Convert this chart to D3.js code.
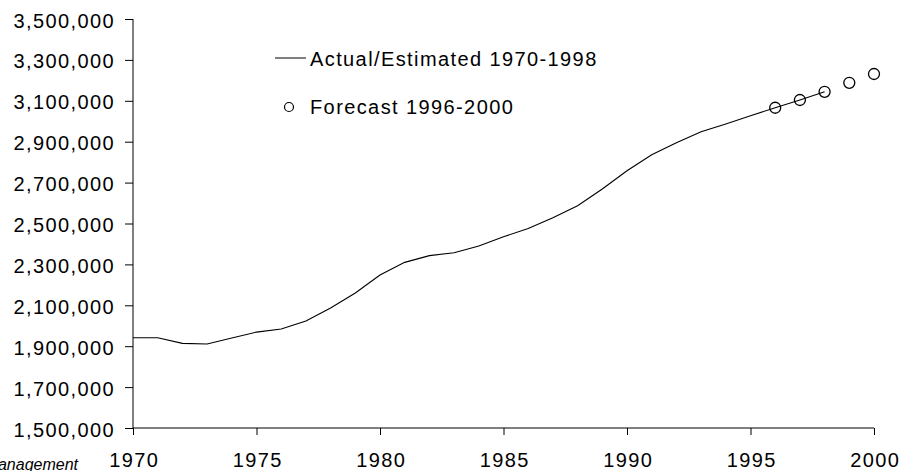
<!DOCTYPE html>
<html>
<head>
<meta charset="utf-8">
<script src="https://cdn.jsdelivr.net/npm/d3@7"></script>
<style>
  html, body { margin: 0; padding: 0; background: #fff; }
  svg { display: block; }
  text { font-family: "Liberation Sans", Arial, sans-serif; fill: #000; }
</style>
</head>
<body>
<svg id="chart" width="899" height="471"></svg>
<script>
// Population, actual/estimated 1970-1998
const actualYears = [1970,1971,1972,1973,1974,1975,1976,1977,1978,1979,1980,1981,1982,1983,1984,1985,1986,1987,1988,1989,1990,1991,1992,1993,1994,1995,1996,1997,1998];
const actualValues = [1941000,1941000,1914000,1911000,1940000,1969000,1984000,2023000,2087000,2160000,2248000,2310000,2343000,2357000,2390000,2435000,2476000,2528000,2587000,2669000,2758000,2836000,2895000,2949000,2987000,3027000,3066000,3104000,3144000];

// Forecast 1996-2000
const forecastYears = [1996,1997,1998,1999,2000];
const forecastValues = [3066000,3104000,3144000,3188000,3231000];

const xTicks = [1970,1975,1980,1985,1990,1995,2000];
const yTicks = [1500000,1700000,1900000,2100000,2300000,2500000,2700000,2900000,3100000,3300000,3500000];

const legendLabels = ["Actual/Estimated 1970-1998", "Forecast 1996-2000"];
const sourceNote = "Source: Office of Financial Management";

const svg = d3.select("#chart");

const x = d3.scaleLinear().domain([1970, 2000]).range([133, 874]);
const y = d3.scaleLinear().domain([1500000, 3500000]).range([428, 19]);

const fmt = d3.format(",");
const fontSize = "20px";
const spacing = 1.4;

// Y axis
const yAxis = svg.append("g")
  .attr("transform", `translate(${x.range()[0]},0)`)
  .call(d3.axisLeft(y).tickValues(yTicks).tickFormat(fmt).tickSize(8).tickPadding(10));
yAxis.select(".domain").attr("d", `M0,${y.range()[1]}V${y.range()[0]}`).attr("stroke", "#000");
yAxis.selectAll(".tick line").attr("stroke", "#000");
yAxis.selectAll(".tick text")
  .style("font-size", fontSize)
  .attr("letter-spacing", spacing)
  .attr("dy", "0.4em");

// X axis
const xAxis = svg.append("g")
  .attr("transform", `translate(0,${y.range()[0]})`)
  .call(d3.axisBottom(x).tickValues(xTicks).tickFormat(d3.format("d")).tickSize(7).tickPadding(32));
xAxis.select(".domain").attr("d", `M${x.range()[0]},0H${x.range()[1]}`).attr("stroke", "#000");
xAxis.selectAll(".tick line").attr("stroke", "#000");
xAxis.selectAll(".tick text")
  .style("font-size", fontSize)
  .attr("letter-spacing", spacing)
  .attr("dx", spacing / 2)
  .attr("dy", "0");

// Actual line
const line = d3.line().x((d, i) => x(actualYears[i])).y(d => y(d));
svg.append("path")
  .datum(actualValues)
  .attr("fill", "none")
  .attr("stroke", "#000")
  .attr("stroke-width", 1.1)
  .attr("d", line);

// Forecast markers
svg.append("g").selectAll("circle")
  .data(forecastValues)
  .join("circle")
  .attr("cx", (d, i) => x(forecastYears[i]))
  .attr("cy", d => y(d))
  .attr("r", 5.5)
  .attr("fill", "none")
  .attr("stroke", "#000")
  .attr("stroke-width", 1.3);

// Legend
const legend = svg.append("g");
legend.append("line")
  .attr("x1", 275).attr("x2", 306).attr("y1", 58).attr("y2", 58)
  .attr("stroke", "#000").attr("stroke-width", 1);
legend.append("text")
  .attr("x", 310).attr("y", 66)
  .style("font-size", fontSize).attr("letter-spacing", spacing)
  .text(legendLabels[0]);
legend.append("circle")
  .attr("cx", 289).attr("cy", 107).attr("r", 4.5)
  .attr("fill", "none").attr("stroke", "#000").attr("stroke-width", 1.2);
legend.append("text")
  .attr("x", 310).attr("y", 114)
  .style("font-size", fontSize).attr("letter-spacing", spacing)
  .text(legendLabels[1]);

// Source note
svg.append("text")
  .attr("x", 78).attr("y", 470)
  .attr("text-anchor", "end")
  .style("font-size", "16px")
  .style("font-style", "italic")
  .text(sourceNote);
</script>
</body>
</html>
